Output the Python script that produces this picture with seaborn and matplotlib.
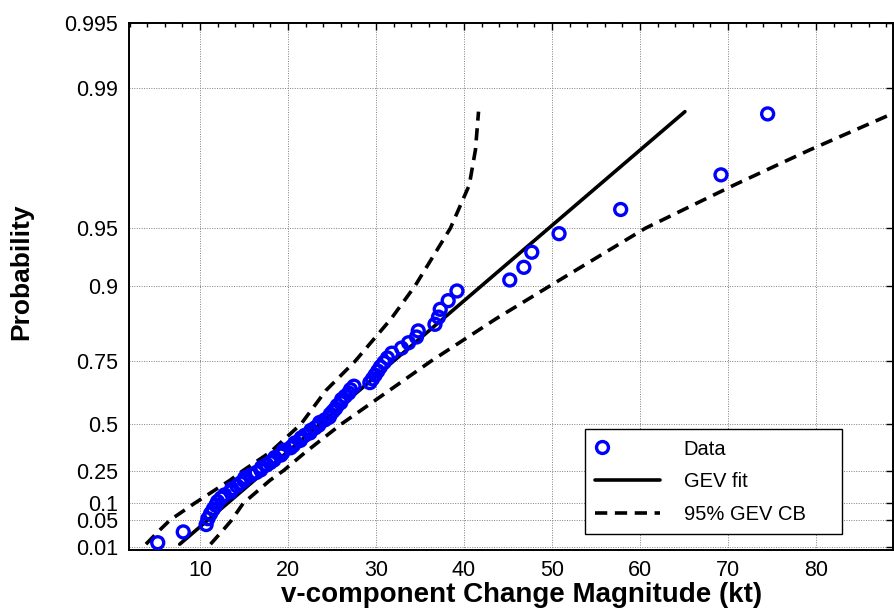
import numpy as np
import pandas as pd
import matplotlib
matplotlib.use("Agg")
import matplotlib.pyplot as plt
import seaborn as sns
from matplotlib.lines import Line2D
from matplotlib.legend_handler import HandlerLine2D
from matplotlib.ticker import FixedLocator, FixedFormatter, MultipleLocator, NullLocator

# ---------------- data ----------------
# GEV shape used for the probability axis
GEV_K = 0.065

prob_ticks = [0.01, 0.05, 0.1, 0.25, 0.5, 0.75, 0.9, 0.95, 0.99, 0.995]
prob_tick_labels = ["0.01", "0.05", "0.1", "0.25", "0.5", "0.75", "0.9", "0.95", "0.99", "0.995"]
x_ticks = [10, 20, 30, 40, 50, 60, 70, 80]

# observed v-component change magnitudes (kt), sorted
data_x = [5.2, 8.1, 10.7, 10.9, 11.2, 11.5, 11.8, 12.0, 12.4, 12.8,
          13.5, 13.6, 14.2, 14.6, 15.0, 15.1, 15.8, 16.4, 16.9, 17.0,
          17.6, 18.0, 18.4, 18.5, 19.2, 19.4, 19.5, 20.3, 20.6, 20.8,
          21.4, 21.5, 21.9, 22.5, 22.6, 23.1, 23.5, 23.6, 24.2, 24.7,
          24.8, 25.1, 25.4, 25.6, 26.0, 26.1, 26.5, 26.9, 27.1, 27.5,
          29.3, 29.6, 29.9, 30.2, 30.5, 30.9, 31.3, 31.8, 32.9, 33.7,
          34.6, 34.8, 36.7, 37.1, 37.3, 38.2, 39.2, 45.2, 46.8, 47.7,
          50.8, 57.8, 69.2, 74.5]

# GEV fit line (end points)
fit_p = [0.012, 0.987]
fit_x = [7.7, 65.1]

# 95% confidence bounds
cb_p = [0.012, 0.03, 0.05, 0.1, 0.2, 0.25, 0.35, 0.5, 0.65, 0.75, 0.85, 0.9,
        0.95, 0.97, 0.98, 0.987]
cb_left_x = [3.86, 5.45, 6.6, 9.36, 13.4, 14.9, 18.0, 21.5, 24.3, 27.6, 31.7,
             34.45, 38.45, 40.6, 41.3, 41.65]
cb_right_x = [11.2, 12.65, 13.6, 14.9, 17.95, 19.5, 22.0, 26.1, 31.5, 36.2,
              43.6, 49.8, 60.6, 70.7, 79.3, 89.2]

# ---------------- plotting ----------------
sns.set_style("white")
plt.rcParams["font.family"] = ["Liberation Sans", "DejaVu Sans"]
plt.rcParams.update({"text.color": "black", "axes.labelcolor": "black",
                     "xtick.color": "black", "ytick.color": "black"})

n = len(data_x)
ranks = np.arange(1, n + 1)
df_data = pd.DataFrame({"x": data_x, "p": ranks / (n + 1)})
df_fit = pd.DataFrame({"x": fit_x, "p": fit_p})
df_cb1 = pd.DataFrame({"x": cb_left_x, "p": cb_p})
df_cb2 = pd.DataFrame({"x": cb_right_x, "p": cb_p})

fig = plt.figure(figsize=(8.95, 6.15), dpi=100)
ax = fig.add_axes([129.3 / 895, 1 - 550 / 615, (893.5 - 129.3) / 895, (550 - 23.3) / 615])

LW = 2.6
DASH = (0, (3.4, 2.1))
sns.scatterplot(data=df_data, x="x", y="p", ax=ax, marker="o", s=74,
                facecolor="none", edgecolor="#0000ff", linewidth=2.4,
                legend=False, zorder=4)
sns.lineplot(data=df_fit, x="x", y="p", ax=ax, color="black", lw=LW,
             estimator=None, sort=False, legend=False, zorder=3)
for d in (df_cb1, df_cb2):
    sns.lineplot(data=d, x="x", y="p", ax=ax, color="black", lw=LW,
                 estimator=None, sort=False, legend=False, zorder=3,
                 dashes=False, linestyle=DASH)


def fwd(p):
    p = np.clip(np.asarray(p, dtype=float), 1e-9, 1 - 1e-12)
    return ((-np.log(p)) ** (-GEV_K) - 1.0) / GEV_K


def inv(z):
    z = np.maximum(np.asarray(z, dtype=float), -1.0 / GEV_K + 1e-9)
    return np.exp(-(1.0 + GEV_K * z) ** (-1.0 / GEV_K))


ax.set_yscale("function", functions=(fwd, inv))
ax.set_ylim(0.0077, 0.995)
ax.set_xlim(1.97, 88.8)

ax.yaxis.set_major_locator(FixedLocator(prob_ticks))
ax.yaxis.set_major_formatter(FixedFormatter(prob_tick_labels))
ax.yaxis.set_minor_locator(NullLocator())
ax.xaxis.set_major_locator(FixedLocator(x_ticks))
ax.xaxis.set_minor_locator(MultipleLocator(2))

ax.grid(True, which="major", color="#808080", linestyle=(0, (1, 1.5)), linewidth=0.7)
ax.tick_params(which="both", direction="in", top=True, right=True,
               labelsize=15.5, colors="black", width=1.0)
ax.tick_params(which="major", length=5, pad=7)
ax.tick_params(axis="y", which="major", pad=8)
ax.tick_params(which="minor", length=3)
for s in ax.spines.values():
    s.set_visible(True)
    s.set_color("black")
    s.set_linewidth(1.4)

ax.set_xlabel("v-component Change Magnitude (kt)", fontsize=20, fontweight="bold")
ax.set_ylabel("Probability", fontsize=19, fontweight="bold")
ax.xaxis.set_label_coords(0.513, -0.0615)
ax.yaxis.set_label_coords(-0.126, 0.528)


class LeftMarkerHandler(HandlerLine2D):
    def get_xdata(self, legend, xdescent, ydescent, width, height, fontsize):
        x = np.array([-xdescent + 0.11 * width])
        return x, x


h_data = Line2D([], [], marker="o", linestyle="none", markerfacecolor="none",
                markeredgecolor="#0000ff", markeredgewidth=2.4, markersize=8.6)
h_fit = Line2D([], [], color="black", lw=LW)
h_cb = Line2D([], [], color="black", lw=LW, linestyle=DASH)
leg = ax.legend([h_data, h_fit, h_cb], ["Data", "GEV fit", "95% GEV CB"],
                handler_map={h_data: LeftMarkerHandler(numpoints=2)},
                loc="lower left", bbox_to_anchor=(0.5963, 0.0304, 0.3363, 0.2),
                mode="expand", fontsize=14.5, frameon=True, fancybox=False,
                edgecolor="black", framealpha=1, handlelength=3.2,
                handletextpad=1.2, labelspacing=0.68, borderpad=0.5,
                borderaxespad=0)
leg.get_frame().set_linewidth(1.0)

fig.savefig("out.png", dpi=100)
